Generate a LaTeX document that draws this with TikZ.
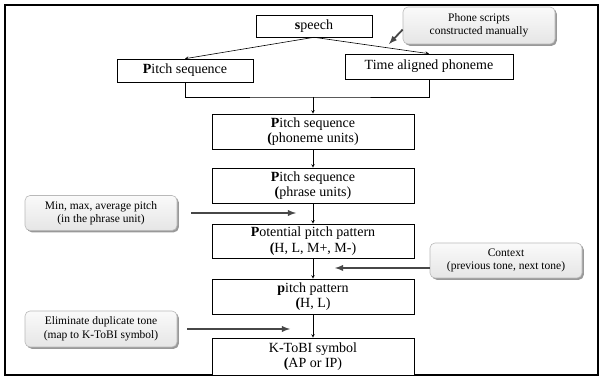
\documentclass[tikz,border=0pt]{standalone}
\usepackage{fontspec}
\setmainfont{Liberation Serif}
\usepackage{tikz}
\usetikzlibrary{arrows}
\usetikzlibrary{shadows}

\begin{document}
\begin{tikzpicture}[
                > = stealth, % arrow head style
                x = 1pt, y = 1pt,
                node distance = 55pt, % distance between boxes
                semithick % line style
        ]

        \tikzstyle{box}=[
            draw = black,
            rectangle,
            fill = white,
            align = center,
            inner sep = 0pt,
            minimum width = 202pt,
            minimum height = 35pt,
            font = \fontsize{14}{15.5}\selectfont
        ]
        \tikzstyle{note}=[
            rectangle,
            rounded corners = 5pt,
            draw = gray!55,
            top color = gray!4,
            bottom color = gray!20,
            drop shadow = {shadow xshift=1.8pt, shadow yshift=-1.8pt,
                           fill=gray, opacity=0.8},
            align = center,
            inner sep = 0pt,
            minimum width = 152pt,
            minimum height = 35pt,
            font = \fontsize{11.5}{13.5}\selectfont
        ]
        \tikzstyle{hint}=[-latex, line width=1.8pt, draw=black!72]

        \useasboundingbox (0,0) rectangle (603,377);
        \draw[line width=1.6pt] (5,2) rectangle (598,372);

        % top row
        \node[box, minimum width=116pt, minimum height=22pt] (SP) at (314,351) {\textbf{s}peech};
        \node[box, minimum width=136pt, minimum height=23pt] (PS) at (185,306.5) {\textbf{P}itch sequence};
        \node[box, minimum width=168pt, minimum height=25pt] (TA) at (429,310.5) {Time aligned phoneme};
        \node[note, minimum height=37pt] (PH) at (479,351.5) {Phone scripts\\constructed manually};

        % main column
        \node[box] (PU) at (313,245.5) {\textbf{P}itch sequence\\\textbf{(}phoneme units)};
        \node[box] (PR) [below of=PU, node distance=54pt] {\textbf{P}itch sequence\\\textbf{(}phrase units)};
        \node[box, minimum height=34pt] (PO) [below of=PR, node distance=55.5pt] {\textbf{P}otential pitch pattern\\\textbf{(}H, L, M+, M-)};
        \node[box] (PP) [below of=PO, node distance=55.5pt] {\textbf{p}itch pattern\\\textbf{(}H, L)};
        \node[box, minimum height=37pt] (KT) [below of=PP, node distance=60pt] {K-ToBI symbol\\\textbf{(}AP or IP)};

        % side notes
        \node[note] (MIN) at (101,164) {Min, max, average pitch\\(in the phrase unit)};
        \node[note] (CTX) at (506,116.5) {Context\\(previous tone, next tone)};
        \node[note, minimum height=36pt] (EL) at (101,48) {Eliminate duplicate tone\\(map to K-ToBI symbol)};

        \coordinate (M) at (313,280);
        \coordinate (PT) at (389,333);
        \coordinate (MT) at (296,164);
        \coordinate (CT) at (335,109);
        \coordinate (ET) at (290,48);

        \draw[->] (SP.south) -- (PS.north);
        \draw[->] (SP.south) -- (TA.north);
        \draw (PS.south) |- (M) -| (TA.south);
        \draw[->] (M) -- (PU.north);
        \draw[->] (PU) -- (PR);
        \draw[->] (PR) -- (PO);
        \draw[->] (PO) -- (PP);
        \draw[->] (PP) -- (KT);

        \draw[hint] ([yshift=-4pt]PH.west) -- (PT);
        \draw[hint] ([xshift=14pt]MIN.east) -- (MT);
        \draw[hint] ([yshift=-7.5pt]CTX.west) -- (CT);
        \draw[hint] ([xshift=10pt]EL.east) -- (ET);

        \end{tikzpicture}
\end{document}
